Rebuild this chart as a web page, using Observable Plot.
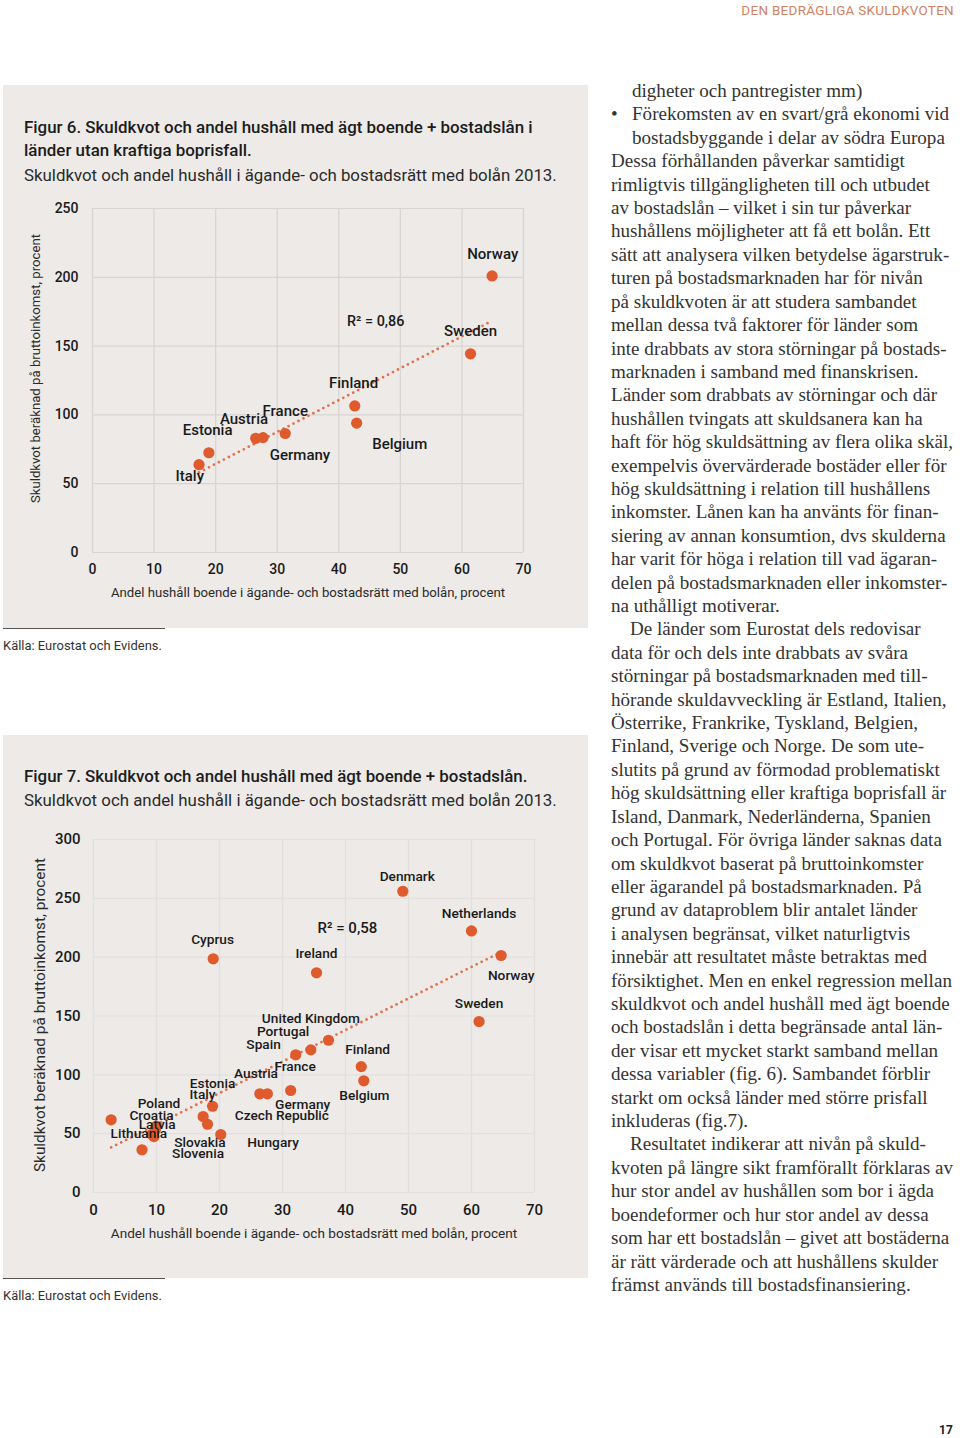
<!DOCTYPE html>
<html><head><meta charset="utf-8">
<script src="https://cdn.jsdelivr.net/npm/d3@7"></script>
<script src="https://cdn.jsdelivr.net/npm/@observablehq/plot@0.6"></script>
<style>
body{margin:0;width:960px;height:1438px;position:relative;background:#fff;font-family:Roboto,sans-serif;overflow:hidden;color:#222}
.a{position:absolute;white-space:nowrap;line-height:1.2;transform:translateY(-50%)}
.panel{position:absolute;left:3px;width:585px;background:#edeae8}
.rule{position:absolute;left:3px;width:162px;height:1px;background:#555}
.t{font-weight:500;color:#1c1c1c}
.s{font-weight:400;color:#2a2a2a}
.src{font-size:12px;color:#333;left:3px}
#col .a{font-family:"Liberation Serif",serif;color:#333;font-size:17.5px}
.chart{position:absolute;left:0}
</style></head>
<body>
<div class="a" id="hdr" style="right:6px;top:11px;font-size:13px;color:#cf8262;letter-spacing:0.3px" data-w="213">DEN BEDRÄGLIGA SKULDKVOTEN</div>

<div class="panel" style="top:85px;height:543px"></div>
<div class="a t" style="left:24px;top:127px;font-size:16px" data-w="509">Figur 6. Skuldkvot och andel hushåll med ägt boende + bostadslån i</div>
<div class="a t" style="left:24px;top:150px;font-size:16px" data-ref="0">länder utan kraftiga boprisfall.</div>
<div class="a s" style="left:24px;top:175px;font-size:16px" data-w="533">Skuldkvot och andel hushåll i ägande- och bostadsrätt med bolån 2013.</div>
<div class="chart" id="fig6" style="top:190px"></div>
<div class="rule" style="top:628px"></div>
<div class="a src" style="top:646px" data-w="159">Källa: Eurostat och Evidens.</div>

<div class="panel" style="top:735px;height:543px"></div>
<div class="a t" style="left:24px;top:776px;font-size:16px" data-w="504">Figur 7. Skuldkvot och andel hushåll med ägt boende + bostadslån.</div>
<div class="a s" style="left:24px;top:800px;font-size:16px" data-w="533">Skuldkvot och andel hushåll i ägande- och bostadsrätt med bolån 2013.</div>
<div class="chart" id="fig7" style="top:820px"></div>
<div class="rule" style="top:1278px"></div>
<div class="a src" style="top:1296px" data-w="159">Källa: Eurostat och Evidens.</div>

<div id="col"></div>
<div class="a" style="left:939px;top:1430px;font-size:12px;font-weight:700;color:#222">17</div>

<script>
// ---------- Figur 6 data ----------
const countries6 = ["Italy","Estonia","Austria","Germany","France","Finland","Belgium","Sweden","Norway"];
const share6 = [17.3,18.9,26.5,27.7,31.3,42.6,42.9,61.4,64.9];
const debt6 = [63.8,72.5,83.0,83.5,86.5,106.5,94.0,144.4,201.0];
const labelNames6 = ["Norway","Sweden","Finland","France","Austria","Estonia","Germany","Belgium","Italy"];
const labelX6 = [65.0,61.4,42.4,31.3,24.6,18.7,33.7,49.9,15.8];
const labelY6 = [216.9,160.9,123.0,102.9,96.9,88.9,71.0,78.8,55.1];
const r2text6 = "R² = 0,86"; const r2pos6 = [46.0,168.1];

// ---------- Figur 7 data ----------
const countries7 = ["Denmark","Netherlands","Norway","Sweden","Finland","Belgium","Cyprus","Ireland","United Kingdom","Portugal","Spain","France","Austria","Germany","Estonia","Italy","Czech Republic","Hungary","Croatia","Lithuania","Poland","Slovakia","Latvia","Slovenia"];
const share7 = [49.1,60.0,64.7,61.2,42.5,42.9,19.0,35.4,37.3,34.5,32.1,31.3,26.4,27.6,18.9,17.4,18.1,20.2,2.8,7.7,10.0,9.8,9.3,9.6];
const debt7 = [256.0,222.3,201.4,145.3,107.0,94.9,198.6,186.7,129.4,121.2,117.0,86.7,83.9,83.9,73.3,64.6,58.0,49.3,61.8,36.3,56.5,53.0,49.5,47.5];
const labelNames7 = ["Cyprus","Ireland","Denmark","Netherlands","Norway","Sweden","United Kingdom","Portugal","Spain","Finland","France","Austria","Estonia","Italy","Belgium","Poland","Germany","Croatia","Czech Republic","Latvia","Lithuania","Hungary","Slovakia","Slovenia"];
const labelX7 = [18.9,35.4,49.8,61.2,66.3,61.2,34.5,30.1,27.0,43.5,32.0,25.8,18.9,17.3,43.0,10.4,33.2,9.2,29.9,10.1,7.2,28.5,16.9,16.6];
const labelY7 = [214.7,202.8,268.7,236.8,184.4,160.8,148.1,136.5,125.7,121.2,107.0,101.4,92.3,83.3,82.4,75.9,74.5,65.2,65.4,58.0,49.9,42.7,42.2,33.4];
const r2text7 = "R² = 0,58"; const r2pos7 = [40.3,224.9];

// ---------- shared axis texts ----------
const xTicks = [0,10,20,30,40,50,60,70];
const yTicks6 = [0,50,100,150,200,250];
const yTicks7 = [0,50,100,150,200,250,300];
const xLabel = "Andel hushåll boende i ägande- och bostadsrätt med bolån, procent";
const yLabel = "Skuldkvot beräknad på bruttoinkomst, procent";

const dotColor = "#df5a2c", trendColor = "#e0724b";

function makeChart(o){
  const data = o.countries.map((c,i)=>({country:c, share:o.share[i], debt:o.debt[i]}));
  const labels = o.labelNames.map((n,i)=>({name:n, x:o.labelX[i], y:o.labelY[i]}));
  return Plot.plot({
    width:590, height:o.height,
    marginTop:o.mt, marginRight:o.mr, marginBottom:o.mb, marginLeft:o.ml,
    style:{background:"transparent", fontFamily:"Roboto, sans-serif", overflow:"visible"},
    x:{domain:[0,70]},
    y:{domain:o.ydom},
    marks:[
      Plot.gridX(xTicks,{stroke:o.grid, strokeOpacity:1, strokeWidth:1.2}),
      Plot.gridY(o.yTicks,{stroke:o.grid, strokeOpacity:1, strokeWidth:1.2}),
      Plot.axisX(xTicks,{tickSize:0, tickPadding:12, fontSize:o.tickFs, fontWeight:500, fill:"#1a1a1a", label:null}),
      Plot.axisY(o.yTicks,{tickSize:0, tickPadding:o.ypad, fontSize:o.tickFs, fontWeight:500, fill:"#1a1a1a", label:null}),
      Plot.linearRegressionY(data,{x:"share", y:"debt", ci:0, stroke:trendColor, strokeWidth:2.8, strokeDasharray:"0 5.6", strokeLinecap:"round"}),
      Plot.dot(data,{x:"share", y:"debt", r:5.6, fill:dotColor, stroke:"none"}),
      Plot.text(labels,{x:"x", y:"y", text:"name", fontSize:o.labFs, fontWeight:500, fill:"#1a1a1a"}),
      Plot.text([o.r2],{x:()=>o.r2pos[0], y:()=>o.r2pos[1], text:d=>d, fontSize:o.r2Fs, fontWeight:500, fill:"#1a1a1a"}),
      Plot.text([yLabel],{frameAnchor:"left", textAnchor:"middle", lineAnchor:"middle", text:d=>d, rotate:-90, dx:o.ylabDx, dy:o.ylabDy, fontSize:o.ylabFs, fill:"#2a2a2a"}),
      Plot.text([xLabel],{frameAnchor:"bottom", textAnchor:"middle", lineAnchor:"middle", text:d=>d, dy:o.xlabDy, fontSize:o.xlabFs, fill:"#2a2a2a"})
    ]
  });
}

document.getElementById("fig6").append(makeChart({
  countries:countries6, share:share6, debt:debt6,
  labelNames:labelNames6, labelX:labelX6, labelY:labelY6, r2:r2text6, r2pos:r2pos6,
  height:430, mt:18, mr:67, mb:68, ml:92, ydom:[0,250], yTicks:yTicks6,
  grid:"#d7d4d2", tickFs:14, ypad:14, labFs:15, r2Fs:14.4, ylabFs:13.2, ylabDx:-57, ylabDy:-12,
  xlabFs:13.2, xlabDy:40
}));
document.getElementById("fig7").append(makeChart({
  countries:countries7, share:share7, debt:debt7,
  labelNames:labelNames7, labelX:labelX7, labelY:labelY7, r2:r2text7, r2pos:r2pos7,
  height:440, mt:19, mr:56, mb:68, ml:93, ydom:[0,300], yTicks:yTicks7,
  grid:"#e2dfdd", tickFs:15, ypad:13, labFs:13.7, r2Fs:15, ylabFs:15.4, ylabDx:-53, ylabDy:-1,
  xlabFs:13.6, xlabDy:41
}));

// ---------- right column text ----------
const bodyLines = [
 "digheter och pantregister mm)",
 "Förekomsten av en svart/grå ekonomi vid",
 "bostadsbyggande i delar av södra Europa",
 "Dessa förhållanden påverkar samtidigt",
 "rimligtvis tillgängligheten till och utbudet",
 "av bostadslån – vilket i sin tur påverkar",
 "hushållens möjligheter att få ett bolån. Ett",
 "sätt att analysera vilken betydelse ägarstruk-",
 "turen på bostadsmarknaden har för nivån",
 "på skuldkvoten är att studera sambandet",
 "mellan dessa två faktorer för länder som",
 "inte drabbats av stora störningar på bostads-",
 "marknaden i samband med finanskrisen.",
 "Länder som drabbats av störningar och där",
 "hushållen tvingats att skuldsanera kan ha",
 "haft för hög skuldsättning av flera olika skäl,",
 "exempelvis övervärderade bostäder eller för",
 "hög skuldsättning i relation till hushållens",
 "inkomster. Lånen kan ha använts för finan-",
 "siering av annan konsumtion, dvs skulderna",
 "har varit för höga i relation till vad ägaran-",
 "delen på bostadsmarknaden eller inkomster-",
 "na uthålligt motiverar.",
 "De länder som Eurostat dels redovisar",
 "data för och dels inte drabbats av svåra",
 "störningar på bostadsmarknaden med till-",
 "hörande skuldavveckling är Estland, Italien,",
 "Österrike, Frankrike, Tyskland, Belgien,",
 "Finland, Sverige och Norge. De som ute-",
 "slutits på grund av förmodad problematiskt",
 "hög skuldsättning eller kraftiga boprisfall är",
 "Island, Danmark, Nederländerna, Spanien",
 "och Portugal. För övriga länder saknas data",
 "om skuldkvot baserat på bruttoinkomster",
 "eller ägarandel på bostadsmarknaden. På",
 "grund av dataproblem blir antalet länder",
 "i analysen begränsat, vilket naturligtvis",
 "innebär att resultatet måste betraktas med",
 "försiktighet. Men en enkel regression mellan",
 "skuldkvot och andel hushåll med ägt boende",
 "och bostadslån i detta begränsade antal län-",
 "der visar ett mycket starkt samband mellan",
 "dessa variabler (fig. 6). Sambandet förblir",
 "starkt om också länder med större prisfall",
 "inkluderas (fig.7).",
 "Resultatet indikerar att nivån på skuld-",
 "kvoten på längre sikt framförallt förklaras av",
 "hur stor andel av hushållen som bor i ägda",
 "boendeformer och hur stor andel av dessa",
 "som har ett bostadslån – givet att bostäderna",
 "är rätt värderade och att hushållens skulder",
 "främst används till bostadsfinansiering."
];
const indents = {0:21, 1:21, 2:21, 23:19, 45:19};
const col = document.getElementById("col");
bodyLines.forEach((t,i)=>{
  const d = document.createElement("div");
  d.className = "a";
  d.textContent = t;
  d.style.left = (611 + (indents[i]||0)) + "px";
  d.style.top = (91 + i*23.41) + "px";
  col.append(d);
  if(i===1){
    const b = document.createElement("div");
    b.className="a"; b.textContent="•"; b.style.left="611px"; b.style.top=(91+i*23.41)+"px";
    col.append(b);
  }
});

function fit(){
  document.querySelectorAll("[data-w]").forEach(el=>{
    const w = el.getBoundingClientRect().width;
    const fs = parseFloat(getComputedStyle(el).fontSize);
    el.style.fontSize = (fs*(+el.dataset.w)/w).toFixed(2)+"px";
  });
  const ref = document.querySelector('[data-w="509"]');
  document.querySelector('[data-ref="0"]').style.fontSize = getComputedStyle(ref).fontSize;
  const divs = col.querySelectorAll(".a");
  const targets = [[8,339],[12,339],[16,338],[5,319]];
  let ratio = 0;
  targets.forEach(([k,w])=>{ ratio += w/divs[k].getBoundingClientRect().width; });
  ratio /= targets.length;
  const fs = 17.5*ratio;
  divs.forEach(d=>d.style.fontSize = fs.toFixed(2)+"px");
}
if (document.fonts && document.fonts.ready) document.fonts.ready.then(fit); else fit();
</script>
</body></html>
